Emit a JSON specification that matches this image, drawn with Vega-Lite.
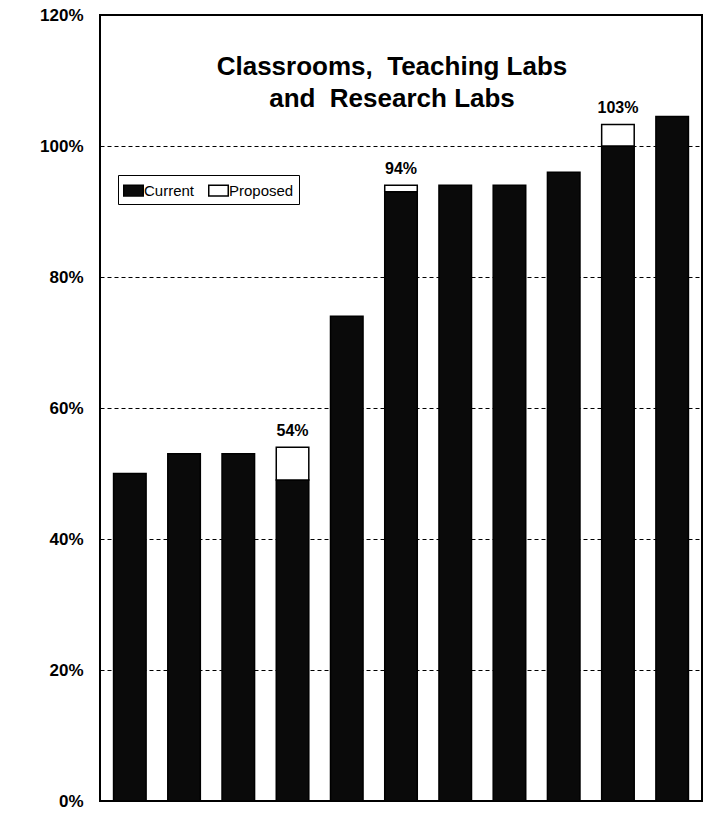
{
  "$schema": "https://vega.github.io/schema/vega-lite/v6.json",
  "width": 602,
  "height": 786,
  "autosize": {"type": "none"},
  "padding": {"left": 100, "top": 15, "right": 4, "bottom": 12},
  "background": "white",
  "config": {
    "font": "Liberation Sans",
    "view": {"stroke": "black", "strokeWidth": 2},
    "legend": {
      "strokeColor": "black",
      "padding": 5,
      "fillColor": "white"
    }
  },
  "title": {
    "text": ["Classrooms,\u00a0 Teaching Labs", "and\u00a0 Research Labs"],
    "fontSize": 26,
    "fontWeight": "bold",
    "color": "black",
    "lineHeight": 32,
    "anchor": "middle",
    "frame": "group",
    "baseline": "top",
    "offset": 0,
    "dx": -9,
    "dy": 106
  },
  "layer": [
    {
      "data": {
        "values": [
          {"bar": 1, "series": "Current", "value": 50},
          {"bar": 2, "series": "Current", "value": 53},
          {"bar": 3, "series": "Current", "value": 53},
          {"bar": 4, "series": "Current", "value": 49},
          {"bar": 4, "series": "Proposed", "value": 5},
          {"bar": 5, "series": "Current", "value": 74},
          {"bar": 6, "series": "Current", "value": 93},
          {"bar": 6, "series": "Proposed", "value": 1},
          {"bar": 7, "series": "Current", "value": 94},
          {"bar": 8, "series": "Current", "value": 94},
          {"bar": 9, "series": "Current", "value": 96},
          {"bar": 10, "series": "Current", "value": 100},
          {"bar": 10, "series": "Proposed", "value": 3.3},
          {"bar": 11, "series": "Current", "value": 104.5}
        ]
      },
      "mark": {"type": "bar", "stroke": "black", "strokeWidth": 1.5},
      "encoding": {
        "x": {
          "field": "bar",
          "type": "ordinal",
          "axis": null,
          "scale": {"paddingInner": 0.4, "paddingOuter": 0.25}
        },
        "y": {
          "field": "value",
          "type": "quantitative",
          "stack": "zero",
          "scale": {"domain": [0, 120], "nice": false},
          "axis": {
            "values": [0, 20, 40, 60, 80, 100, 120],
            "labelExpr": "datum.value + '%'",
            "title": null,
            "domain": false,
            "ticks": false,
            "labelFontSize": 17,
            "labelFontWeight": "bold",
            "labelColor": "black",
            "labelPadding": 17,
            "grid": true,
            "gridColor": "black",
            "gridDash": [4, 3],
            "gridWidth": 1,
            "gridOpacity": 1
          }
        },
        "order": {"field": "series", "sort": "ascending"},
        "color": {
          "field": "series",
          "type": "nominal",
          "scale": {"domain": ["Current", "Proposed"], "range": ["#0a0a0a", "#ffffff"]},
          "legend": {
            "orient": "none",
            "legendX": 18,
            "legendY": 160,
            "direction": "horizontal",
            "title": null,
            "symbolType": "M-1,-0.55H1V0.55H-1Z",
            "symbolSize": 380,
            "symbolStrokeColor": "black",
            "symbolStrokeWidth": 1.5,
            "labelFontSize": 15,
            "labelColor": "black",
            "labelOffset": 0,
            "columnPadding": 10,
            "labelExpr": "datum.label == 'Proposed' ? datum.label + '\u00a0\u00a0\u00a0\u00a0\u00a0\u00a0\u00a0\u00a0\u00a0\u00a0' : datum.label"
          }
        }
      }
    },
    {
      "data": {
        "values": [
          {"bar": 4, "total": 54, "label": "54%"},
          {"bar": 6, "total": 94, "label": "94%"},
          {"bar": 10, "total": 103.3, "label": "103%"}
        ]
      },
      "mark": {
        "type": "text",
        "fontSize": 16,
        "fontWeight": "bold",
        "color": "black",
        "baseline": "bottom",
        "dy": -8
      },
      "encoding": {
        "x": {"field": "bar", "type": "ordinal"},
        "y": {"field": "total", "type": "quantitative"},
        "text": {"field": "label"}
      }
    }
  ]
}
